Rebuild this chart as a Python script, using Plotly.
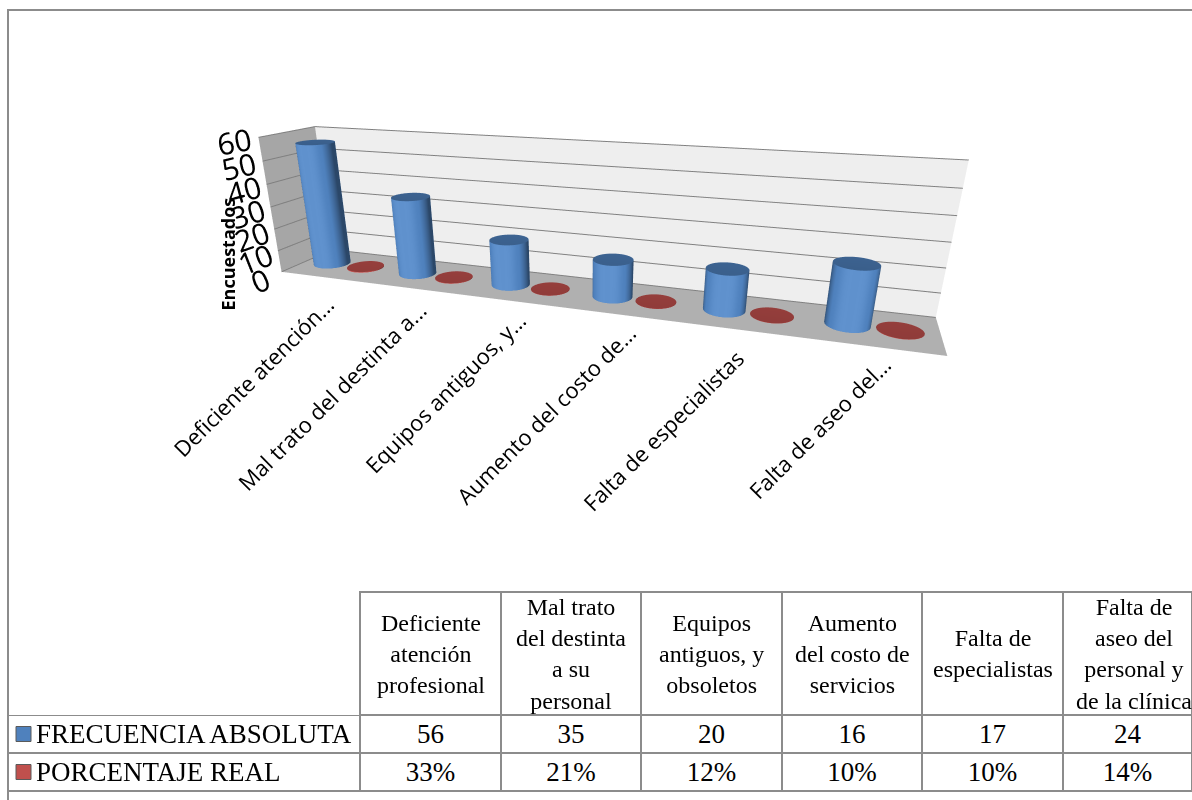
import numpy as np
import plotly.graph_objects as go

# ---- data ----
categories_axis = ["Deficiente atención...", "Mal trato del destinta a...",
                   "Equipos antiguos, y...", "Aumento del costo de...",
                   "Falta de especialistas", "Falta de aseo del..."]
categories_table = ["Deficiente<br>atención<br>profesional",
                    "Mal trato<br>del destinta<br>a su<br>personal",
                    "Equipos<br>antiguos, y<br>obsoletos",
                    "Aumento<br>del costo de<br>servicios",
                    "Falta de<br>especialistas",
                    "Falta de<br>aseo del<br>personal y<br>de la clínica"]
frecuencia_absoluta = [56, 35, 20, 16, 17, 24]
porcentaje_real = [0.33, 0.21, 0.12, 0.10, 0.10, 0.14]
series_names = ["FRECUENCIA ABSOLUTA", "PORCENTAJE REAL"]
series_colors = ["#4F81BD", "#C0504D"]
z_ticks = [0, 10, 20, 30, 40, 50, 60]
axis_title = "Encuestados"

W, H = 1192, 800
BAR_R = 0.18
OFFSETS = [-0.2, 0.2]


def cylinders(values, offset, r=BAR_R, n=48):
    """Mesh of upright cylinders, one per category, heights from values."""
    xs, ys, zs, ii, jj, kk = [], [], [], [], [], []
    th = np.linspace(0, 2 * np.pi, n, endpoint=False)
    for idx, h in enumerate(values):
        xc, yc = idx + offset, 0.0
        base = len(xs)
        cx = xc + r * np.cos(th)
        cy = yc + r * np.sin(th)
        xs += list(cx) + list(cx)
        ys += list(cy) + list(cy)
        zs += [0.0] * n + [h] * n
        for k in range(n):
            k1 = (k + 1) % n
            ii += [base + k, base + k1]
            jj += [base + k1, base + n + k1]
            kk += [base + n + k, base + n + k]
        cap = len(xs)
        xs += list(cx) + [xc]
        ys += list(cy) + [yc]
        zs += [h] * (n + 1)
        for k in range(n):
            k1 = (k + 1) % n
            ii.append(cap + k)
            jj.append(cap + k1)
            kk.append(cap + n)
    return xs, ys, zs, ii, jj, kk


fig = go.Figure()

for vals, off, name, col in zip([frecuencia_absoluta, porcentaje_real], OFFSETS,
                                series_names, series_colors):
    x, y, z, i, j, k = cylinders(vals, off)
    fig.add_trace(go.Mesh3d(
        x=x, y=y, z=z, i=i, j=j, k=k, color=col, name=name,
        flatshading=False, showscale=False, hoverinfo="skip",
        lighting=dict(ambient=0.55, diffuse=0.75, specular=0.35,
                      roughness=0.5, fresnel=0.2),
        lightposition=dict(x=-200, y=-1000, z=400),
    ))

# equal scale for x and y so the cylinders stay round
x_rng = [-0.5, len(categories_axis) - 0.5]
y_rng = [-0.4, 0.4]
z_rng = [0, 60]
unit = 0.5
aspect = dict(x=(x_rng[1] - x_rng[0]) * unit, y=(y_rng[1] - y_rng[0]) * unit, z=0.65)

grid = "#808080"
fig.update_layout(
    scene=dict(
        domain=dict(x=[0.0, 0.975], y=[0.22, 0.96]),
        aspectmode="manual", aspectratio=aspect,
        xaxis=dict(range=x_rng, showgrid=False, zeroline=False, showticklabels=False,
                   title="", showbackground=True, backgroundcolor="#A6A6A6",
                   showspikes=False, showline=False, ticks=""),
        yaxis=dict(range=y_rng, showgrid=False, zeroline=False, showticklabels=False,
                   title="", showbackground=True, backgroundcolor="#EEEEEE",
                   showspikes=False, showline=False, ticks=""),
        zaxis=dict(range=z_rng, tickvals=z_ticks, showgrid=True, gridcolor=grid,
                   gridwidth=2, zeroline=False, title="", showbackground=True,
                   backgroundcolor="#B0B0B0", showspikes=False, showline=False,
                   ticks="outside", ticklen=12, tickcolor="white",
                   tickfont=dict(family="Open Sans", size=19, color="black")),
        camera=dict(eye=dict(x=1.0, y=-2.9, z=0.8), center=dict(x=0, y=0, z=-0.5),
                    up=dict(x=0, y=0, z=1), projection=dict(type="perspective")),
        bgcolor="rgba(0,0,0,0)",
    ),
)

# category labels under the floor, rotated
label_ends = [(343, 287), (435, 292), (535, 302), (645, 315), (753, 340), (900, 347)]
annotations = []
for txt, (xe, ye) in zip(categories_axis, label_ends):
    annotations.append(dict(
        text=txt, x=xe / W, y=1 - ye / H, xref="paper", yref="paper",
        xanchor="right", yanchor="top", textangle=-45, showarrow=False,
        font=dict(family="Open Sans", size=22, color="black")))
annotations.append(dict(
    text="<b>" + axis_title + "</b>", x=227 / W, y=1 - 313 / H, xref="paper", yref="paper",
    textangle=-90, showarrow=False, xanchor="center", yanchor="bottom",
    font=dict(family="Open Sans", size=18, color="black")))

# ---- data table ----
line_gray = "#8C8C8C"
TBL_LEFT, TBL_TOP, HDR_H, ROW_H = 8, 592, 123, 38
col_w = [352, 141, 140, 141, 140, 141, 141]
visible_w = col_w[:-1] + [W - TBL_LEFT - sum(col_w[:-1])]

table_cols = [[""] * len(series_names)]
for f, p in zip(frecuencia_absoluta, porcentaje_real):
    table_cols.append([str(f), "%d%%" % round(p * 100)])

fig.add_trace(go.Table(
    domain=dict(x=[TBL_LEFT / W, 1.0], y=[0.0, 1 - TBL_TOP / H]),
    columnwidth=visible_w,
    header=dict(values=[""] * len(col_w), height=HDR_H,
                line=dict(color=["rgba(0,0,0,0)"] + [line_gray] * 6, width=2),
                fill=dict(color="white")),
    cells=dict(values=table_cols, height=ROW_H, align="center",
               line=dict(color=line_gray, width=2),
               fill=dict(color="white"),
               font=dict(family="Liberation Serif", size=27, color="black")),
))

# header captions, each line centred within its column
edges = np.cumsum([TBL_LEFT] + col_w)
for c, lab in enumerate(categories_table, start=1):
    xc = (edges[c] + edges[c + 1]) / 2
    annotations.append(dict(
        text=lab, x=xc / W, y=1 - (TBL_TOP + HDR_H / 2) / H, xref="paper", yref="paper",
        xanchor="center", yanchor="middle", align="center", showarrow=False,
        font=dict(family="Liberation Serif", size=24, color="black")))

# row labels with their legend keys
shapes = []
for r, (name, col) in enumerate(zip(series_names, series_colors)):
    yc = TBL_TOP + HDR_H + ROW_H * (r + 0.5)
    shapes.append(dict(type="rect", xref="paper", yref="paper",
                       x0=16 / W, x1=31 / W, y0=1 - (yc + 7.5) / H, y1=1 - (yc - 7.5) / H,
                       fillcolor=col, line=dict(color="#5a5a5a", width=1), layer="above"))
    annotations.append(dict(
        text=name, x=34 / W, y=1 - yc / H, xref="paper", yref="paper",
        xanchor="left", yanchor="middle", showarrow=False,
        font=dict(family="Liberation Serif", size=27, color="black")))

shapes.append(dict(type="rect", xref="paper", yref="paper",
                   x0=8 / W, x1=1.02, y0=-0.02, y1=1 - 10 / H,
                   line=dict(color=line_gray, width=2), layer="above"))

fig.update_layout(
    width=W, height=H, margin=dict(l=0, r=0, t=0, b=0),
    paper_bgcolor="white", plot_bgcolor="white", showlegend=False,
    annotations=annotations, shapes=shapes,
)

fig.write_html("out.html")
